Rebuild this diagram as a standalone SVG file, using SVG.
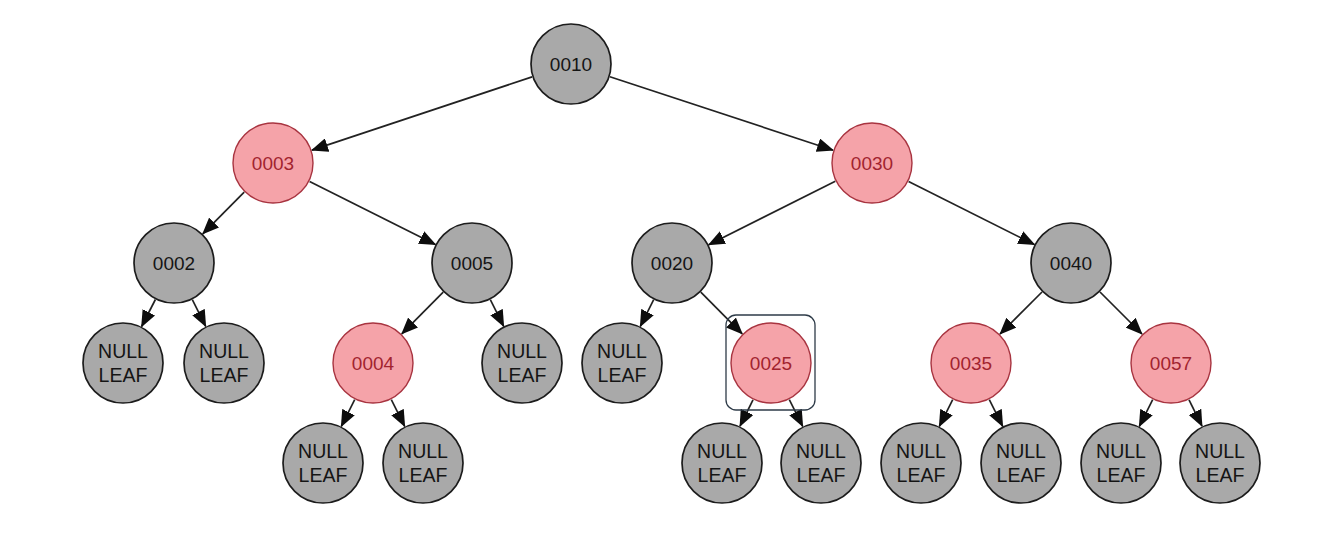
<svg xmlns="http://www.w3.org/2000/svg" width="1339" height="537" viewBox="0 0 1339 537">
<defs>
<marker id="arr" viewBox="0 0 17 14" refX="16" refY="7" markerWidth="17" markerHeight="14" markerUnits="userSpaceOnUse" orient="auto">
<path d="M0,0 L17,7 L0,14 z" fill="#0d0d0d"/>
</marker>
</defs>
<style>
.e{stroke:#222;stroke-width:1.7;fill:none;marker-end:url(#arr)}
.b circle{fill:#a9a9a9;stroke:#1c1c1c;stroke-width:1.7}
.r circle{fill:#f5a3a9;stroke:#a83440;stroke-width:1.4}
text{font-family:"Liberation Sans",Arial,sans-serif;font-size:19px;text-anchor:middle}
.b text{fill:#151515}
.r text{fill:#a2232f}
.n text{font-size:19.5px}
</style>
<rect width="1339" height="537" fill="#ffffff"/>
<g id="connectors">
<line class="e" x1="532.1" y1="76.9" x2="311.9" y2="150.1"/>
<line class="e" x1="609.9" y1="76.8" x2="833.1" y2="150.2"/>
<line class="e" x1="244.2" y1="192.1" x2="202.8" y2="233.9"/>
<line class="e" x1="309.6" y1="181.4" x2="435.4" y2="244.6"/>
<line class="e" x1="835.3" y1="181.3" x2="708.7" y2="244.7"/>
<line class="e" x1="908.6" y1="181.4" x2="1034.4" y2="244.6"/>
<line class="e" x1="155.4" y1="299.5" x2="141.6" y2="326.5"/>
<line class="e" x1="192.3" y1="299.7" x2="205.7" y2="326.3"/>
<line class="e" x1="443.2" y1="292.1" x2="401.8" y2="333.9"/>
<line class="e" x1="490.3" y1="299.7" x2="503.7" y2="326.3"/>
<line class="e" x1="653.7" y1="299.7" x2="640.3" y2="326.3"/>
<line class="e" x1="700.8" y1="292.1" x2="742.2" y2="333.9"/>
<line class="e" x1="1042" y1="292" x2="1000" y2="334"/>
<line class="e" x1="1100" y1="292" x2="1142" y2="334"/>
<line class="e" x1="354.7" y1="399.7" x2="341.3" y2="426.3"/>
<line class="e" x1="391.3" y1="399.7" x2="404.7" y2="426.3"/>
<line class="e" x1="753" y1="399.8" x2="740" y2="426.2"/>
<line class="e" x1="789.3" y1="399.7" x2="802.7" y2="426.3"/>
<line class="e" x1="952.7" y1="399.7" x2="939.3" y2="426.3"/>
<line class="e" x1="989.3" y1="399.7" x2="1002.7" y2="426.3"/>
<line class="e" x1="1152.7" y1="399.7" x2="1139.3" y2="426.3"/>
<line class="e" x1="1189" y1="399.8" x2="1202" y2="426.2"/>
</g>
<g id="n0010" class="b"><circle cx="571" cy="64" r="40"/><text x="571" y="71">0010</text></g>
<g id="n0003" class="r"><circle cx="273" cy="163" r="40"/><text x="273" y="170">0003</text></g>
<g id="n0030" class="r"><circle cx="872" cy="163" r="40"/><text x="872" y="170">0030</text></g>
<g id="n0002" class="b"><circle cx="174" cy="263" r="40"/><text x="174" y="270">0002</text></g>
<g id="n0005" class="b"><circle cx="472" cy="263" r="40"/><text x="472" y="270">0005</text></g>
<g id="n0020" class="b"><circle cx="672" cy="263" r="40"/><text x="672" y="270">0020</text></g>
<g id="n0040" class="b"><circle cx="1071" cy="263" r="40"/><text x="1071" y="270">0040</text></g>
<g id="leaf1" class="b n"><circle cx="123" cy="363" r="40"/><text x="123" y="358">NULL</text><text x="123" y="382">LEAF</text></g>
<g id="leaf2" class="b n"><circle cx="224" cy="363" r="40"/><text x="224" y="358">NULL</text><text x="224" y="382">LEAF</text></g>
<g id="n0004" class="r"><circle cx="373" cy="363" r="40"/><text x="373" y="370">0004</text></g>
<g id="leaf3" class="b n"><circle cx="522" cy="363" r="40"/><text x="522" y="358">NULL</text><text x="522" y="382">LEAF</text></g>
<g id="leaf4" class="b n"><circle cx="622" cy="363" r="40"/><text x="622" y="358">NULL</text><text x="622" y="382">LEAF</text></g>
<g id="n0025" class="r"><circle cx="771" cy="363" r="40"/><text x="771" y="370">0025</text></g>
<g id="n0035" class="r"><circle cx="971" cy="363" r="40"/><text x="971" y="370">0035</text></g>
<g id="n0057" class="r"><circle cx="1171" cy="363" r="40"/><text x="1171" y="370">0057</text></g>
<g id="leaf5" class="b n"><circle cx="323" cy="463" r="40"/><text x="323" y="458">NULL</text><text x="323" y="482">LEAF</text></g>
<g id="leaf6" class="b n"><circle cx="423" cy="463" r="40"/><text x="423" y="458">NULL</text><text x="423" y="482">LEAF</text></g>
<g id="leaf7" class="b n"><circle cx="722" cy="463" r="40"/><text x="722" y="458">NULL</text><text x="722" y="482">LEAF</text></g>
<g id="leaf8" class="b n"><circle cx="821" cy="463" r="40"/><text x="821" y="458">NULL</text><text x="821" y="482">LEAF</text></g>
<g id="leaf9" class="b n"><circle cx="921" cy="463" r="40"/><text x="921" y="458">NULL</text><text x="921" y="482">LEAF</text></g>
<g id="leaf10" class="b n"><circle cx="1021" cy="463" r="40"/><text x="1021" y="458">NULL</text><text x="1021" y="482">LEAF</text></g>
<g id="leaf11" class="b n"><circle cx="1121" cy="463" r="40"/><text x="1121" y="458">NULL</text><text x="1121" y="482">LEAF</text></g>
<g id="leaf12" class="b n"><circle cx="1220" cy="463" r="40"/><text x="1220" y="458">NULL</text><text x="1220" y="482">LEAF</text></g>
<g id="selection"><rect x="726" y="315" width="89" height="95" rx="10" ry="10" fill="none" stroke="#2e3b48" stroke-width="1.3"/></g>
</svg>
